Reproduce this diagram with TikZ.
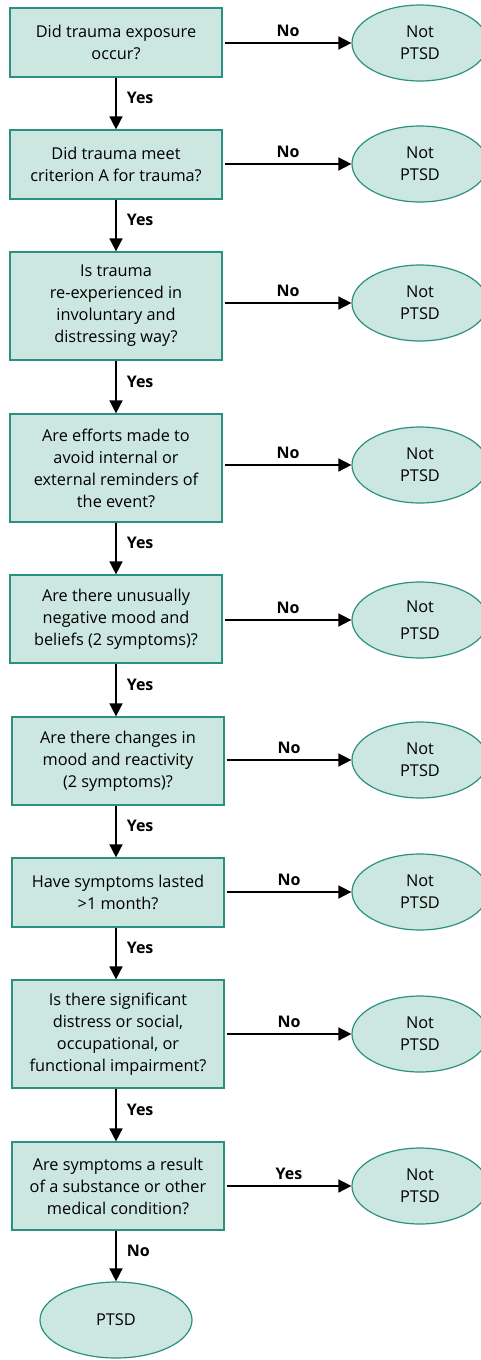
\documentclass[tikz,border=0pt]{standalone}
\usepackage{fontspec}
\setmainfont{Open Sans}
\usetikzlibrary{arrows.meta,shapes.geometric}
\definecolor{boxfill}{HTML}{CCE6E0}
\definecolor{boxline}{HTML}{2A9080}
\begin{document}
\begin{tikzpicture}[x=1pt,y=-1pt,
  question/.style={draw=boxline, line width=1.2pt, fill=boxfill, rectangle,
    minimum width=212pt, inner sep=0pt, align=center,
    font=\fontsize{16.3}{22}\selectfont},
  outcome/.style={draw=boxline, line width=1.2pt, fill=boxfill, ellipse,
    minimum width=136pt, minimum height=76pt, inner sep=0pt, align=center,
    font=\fontsize{16.3}{22}\selectfont},
  flow/.style={line width=1.6pt, -{Triangle[length=13pt,width=13pt]}},
  lbl/.style={font=\bfseries\fontsize{16}{18}\selectfont, inner sep=2pt}
]
\useasboundingbox (0,0) rectangle (481,1360);

% decision boxes down the left column
\node[question, minimum height=69pt]  (q1) at (116,42.5) {Did trauma exposure\\occur?};
\node[question, minimum height=69pt]  (q2) at (116,164.5) {Did trauma meet\\criterion A for trauma?};
\node[question, minimum height=108pt] (q3) at (116,306) {Is trauma\\re-experienced in\\involuntary and\\distressing way?};
\node[question, minimum height=108pt] (q4) at (116,468) {Are efforts made to\\avoid internal or\\external reminders of\\the event?};
\node[question, minimum height=88pt]  (q5) at (116,619) {Are there unusually\\negative mood and\\beliefs (2 symptoms)?};
\node[question, minimum height=88pt]  (q6) at (118,761) {Are there changes in\\mood and reactivity\\(2 symptoms)?};
\node[question, minimum height=69pt]  (q7) at (118,892.5) {Have symptoms lasted\\>1 month?};
\node[question, minimum height=108pt] (q8) at (118,1034) {Is there significant\\distress or social,\\occupational, or\\functional impairment?};
\node[question, minimum height=88pt]  (q9) at (118,1186) {Are symptoms a result\\of a substance or other\\medical condition?};

% outcomes on the right
\node[outcome] (n1) at (420,43)   {Not\\PTSD};
\node[outcome] (n2) at (420,164)  {Not\\PTSD};
\node[outcome] (n3) at (420,303)  {Not\\PTSD};
\node[outcome] (n4) at (420,465)  {Not\\PTSD};
\node[outcome, font=\fontsize{16.3}{27}\selectfont] (n5) at (420,620) {Not\\PTSD};
\node[outcome] (n6) at (420,760)  {Not\\PTSD};
\node[outcome] (n7) at (420,892)  {Not\\PTSD};
\node[outcome] (n8) at (420,1034) {Not\\PTSD};
\node[outcome] (n9) at (420,1186) {Not\\PTSD};
\node[outcome, minimum width=152pt] (ptsd) at (116,1320) {PTSD};

% "Yes" path downward
\foreach \a/\b in {q1/q2,q2/q3,q3/q4,q4/q5,q5/q6,q6/q7,q7/q8,q8/q9}{
  \draw[flow] (\a.south -| ptsd) -- (\b.north -| ptsd)
    node[lbl, pos=0.4, right=8pt] {Yes};
}
\draw[flow] (q9.south -| ptsd) -- (ptsd.north) node[lbl, pos=0.4, right=8pt] {No};

% side exits to the outcomes
\foreach \a/\b in {q1/n1,q2/n2,q3/n3,q4/n4,q5/n5,q6/n6,q7/n7,q8/n8}{
  \draw[flow] (\a.east |- \b.west) ++(2,0) -- (\b.west)
    node[lbl, pos=0.5, above=4pt] {No};
}
\draw[flow] (q9.east |- n9.west) ++(2,0) -- (n9.west)
  node[lbl, pos=0.5, above=4pt] {Yes};
\end{tikzpicture}
\end{document}
